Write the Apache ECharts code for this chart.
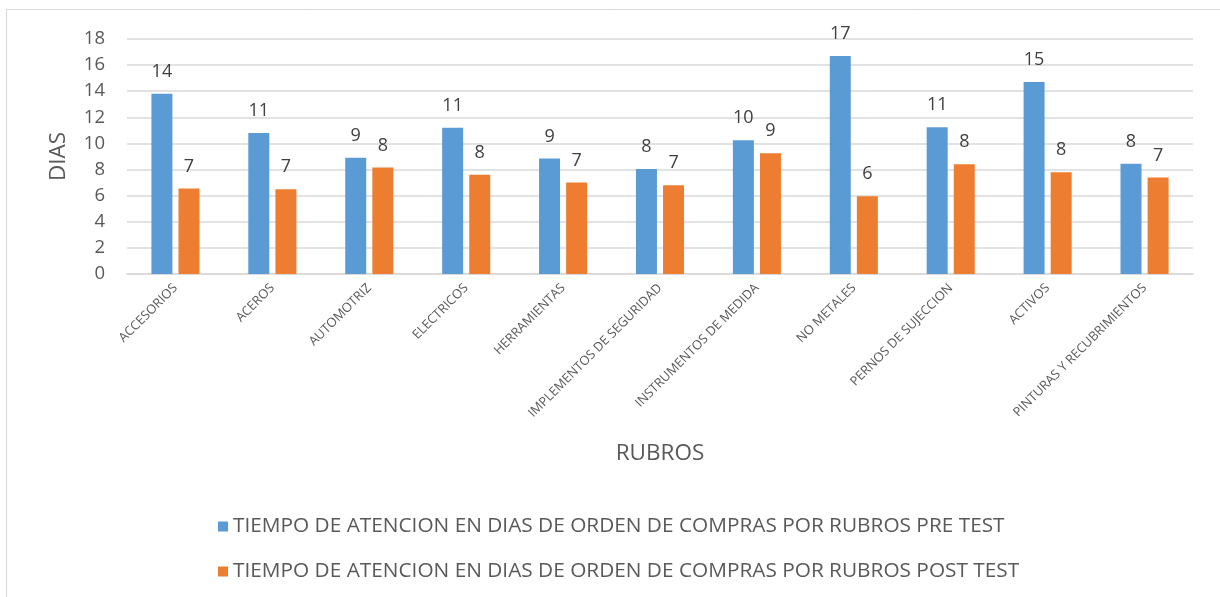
<!DOCTYPE html>
<html>
<head>
<meta charset="utf-8">
<script src="https://cdn.jsdelivr.net/npm/echarts@6/dist/echarts.min.js"></script>
<style>
  html, body { margin: 0; padding: 0; background: #fff; }
  #chart { width: 1220px; height: 597px; }
</style>
</head>
<body>
<div id="chart"></div>
<script>
// rubros (categorias)
var categories = ['ACCESORIOS', 'ACEROS', 'AUTOMOTRIZ', 'ELECTRICOS', 'HERRAMIENTAS',
  'IMPLEMENTOS DE SEGURIDAD', 'INSTRUMENTOS DE MEDIDA', 'NO METALES',
  'PERNOS DE SUJECCION', 'ACTIVOS', 'PINTURAS Y RECUBRIMIENTOS'];
var preTest = [13.8, 10.8, 8.9, 11.2, 8.85, 8.05, 10.25, 16.7, 11.25, 14.7, 8.45];
var postTest = [6.55, 6.5, 8.15, 7.6, 7.0, 6.8, 9.25, 5.95, 8.4, 7.8, 7.4];
var seriesNames = [
  'TIEMPO DE ATENCION EN DIAS DE ORDEN DE COMPRAS POR RUBROS PRE TEST',
  'TIEMPO DE ATENCION EN DIAS DE ORDEN DE COMPRAS POR RUBROS POST TEST'
];
var yTicks = [0, 2, 4, 6, 8, 10, 12, 14, 16, 18];

var textColor = '#595959';
var fontFam = 'Open Sans, Liberation Sans, sans-serif';

var chart = echarts.init(document.getElementById('chart'));

function barLabel() {
  return {
    show: true,
    position: 'top',
    distance: 13,
    fontSize: 18,
    color: '#404040',
    fontFamily: fontFam,
    formatter: function (p) { return Math.round(p.value); }
  };
}

chart.setOption({
  animation: false,
  color: ['#5b9bd5', '#ed7d31'],
  graphic: [{
    type: 'rect',
    shape: { x: 6.5, y: 9.5, width: 1300, height: 700 },
    style: { fill: 'none', stroke: '#d9d9d9', lineWidth: 1 }
  }],
  grid: { left: 127, right: 27, top: 39, bottom: 323 },
  legend: {
    orient: 'vertical',
    left: 213,
    top: 511,
    itemWidth: 10,
    itemHeight: 10,
    itemGap: 24,
    icon: 'rect',
    textStyle: { fontSize: 20.8, color: textColor, fontFamily: fontFam, padding: [0, 0, 0, 0] },
    data: seriesNames
  },
  xAxis: {
    type: 'category',
    data: categories,
    name: 'RUBROS',
    nameLocation: 'middle',
    nameGap: 168,
    nameTextStyle: { fontSize: 22.5, color: textColor, fontFamily: fontFam },
    axisLine: { lineStyle: { color: '#d9d9d9', width: 1.5 } },
    axisTick: { show: false },
    axisLabel: {
      rotate: 45,
      interval: 0,
      margin: 12,
      fontSize: 12.8,
      color: textColor,
      fontFamily: fontFam
    }
  },
  yAxis: {
    type: 'value',
    min: 0,
    max: 18,
    interval: 2,
    name: 'DIAS',
    nameLocation: 'middle',
    nameGap: 57,
    nameRotate: 90,
    nameTextStyle: { fontSize: 22.5, color: textColor, fontFamily: fontFam },
    axisLine: { show: false },
    axisTick: { show: false },
    splitLine: { lineStyle: { color: '#d9d9d9', width: 1.5 } },
    axisLabel: {
      fontSize: 18.5,
      margin: 22,
      color: textColor,
      fontFamily: fontFam,
      formatter: function (v) { return yTicks.indexOf(v) >= 0 ? String(v) : ''; }
    }
  },
  series: [{
    name: seriesNames[0],
    type: 'bar',
    data: preTest,
    barWidth: 21,
    barGap: '29%',
    label: barLabel()
  }, {
    name: seriesNames[1],
    type: 'bar',
    data: postTest,
    barWidth: 21,
    label: barLabel()
  }]
});
</script>
</body>
</html>
